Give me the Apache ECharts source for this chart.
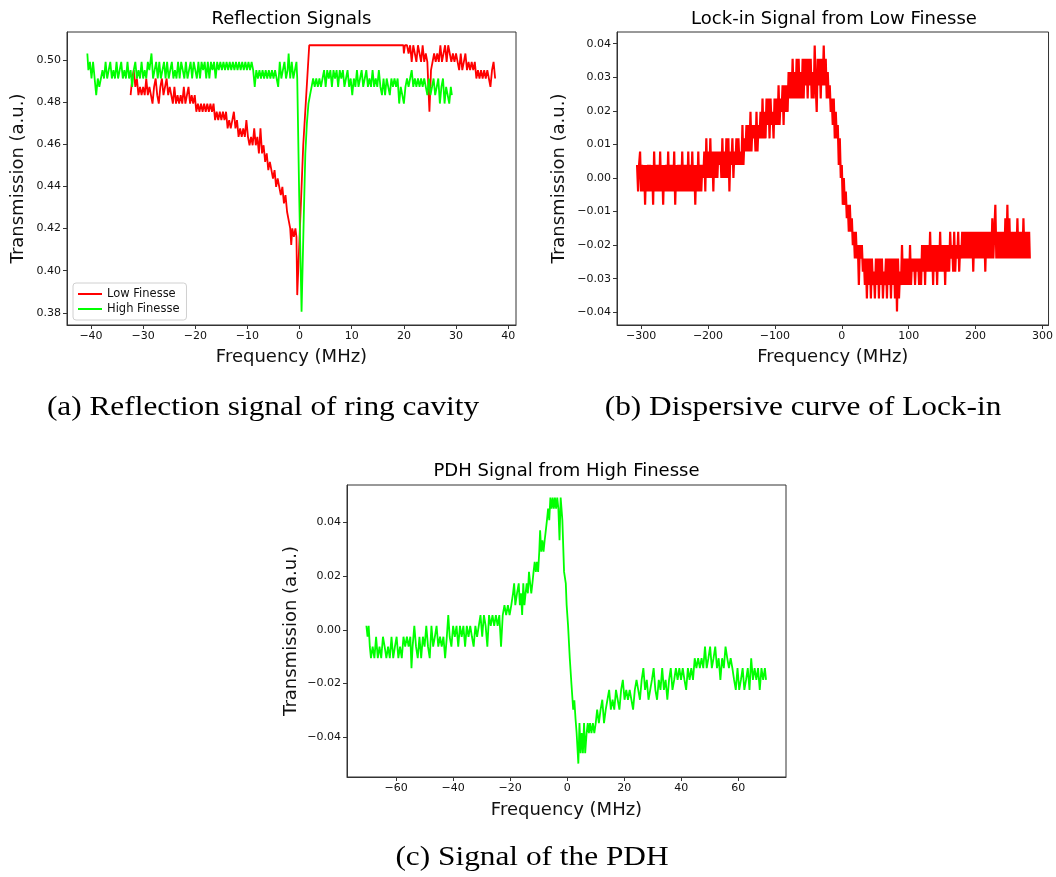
<!DOCTYPE html>
<html>
<head>
<meta charset="utf-8">
<script src="https://cdn.jsdelivr.net/npm/echarts@6/dist/echarts.min.js"></script>
<style>
html,body{margin:0;padding:0;background:#fff;}
#chart{width:1056px;height:877px;}
</style>
</head>
<body>
<div id="chart"></div>
<script>
// ---------- tick labels ----------
const xTicksA = [-40,-30,-20,-10,0,10,20,30,40];
const yTicksA = [0.38,0.40,0.42,0.44,0.46,0.48,0.50];
const xTicksB = [-300,-200,-100,0,100,200,300];
const yTicksB = [-0.04,-0.03,-0.02,-0.01,0.00,0.01,0.02,0.03,0.04];
const xTicksC = [-60,-40,-20,0,20,40,60];
const yTicksC = [-0.04,-0.02,0.00,0.02,0.04];

// ---------- text ----------
const titles = ['Reflection Signals','Lock-in Signal from Low Finesse','PDH Signal from High Finesse'];
const captions = ['(a) Reflection signal of ring cavity','(b) Dispersive curve of Lock-in','(c) Signal of the PDH'];
const seriesNames = ['Low Finesse','High Finesse'];

// ---------- (a) Reflection signals : [MHz, a.u.] ----------
const lowFinesse = [
[-32.4,0.4834],[-32.1,0.4913],[-31.8,0.4953],[-31.5,0.4873],[-31.2,0.4913],[-30.9,0.4834],[-30.6,0.4873],[-30.3,0.4834],[-30.0,0.4873],[-29.7,0.4834],
[-29.4,0.4913],[-29.1,0.4834],[-28.8,0.4873],[-28.5,0.4834],[-28.2,0.4794],[-27.9,0.4873],[-27.6,0.4913],[-27.3,0.4834],[-27.0,0.4794],[-26.7,0.4873],
[-26.4,0.4913],[-26.1,0.4834],[-25.8,0.4873],[-25.5,0.4913],[-25.2,0.4834],[-24.9,0.4873],[-24.6,0.4834],[-24.3,0.4794],[-24.0,0.4873],[-23.7,0.4794],
[-23.4,0.4834],[-23.1,0.4794],[-22.8,0.4834],[-22.5,0.4794],[-22.2,0.4873],[-21.9,0.4794],[-21.6,0.4834],[-21.3,0.4873],[-21.0,0.4794],[-20.7,0.4834],
[-20.4,0.4794],[-20.1,0.4834],[-19.8,0.4755],[-19.5,0.4794],[-19.2,0.4755],[-18.9,0.4794],[-18.6,0.4755],[-18.3,0.4794],[-18.0,0.4755],[-17.7,0.4794],
[-17.4,0.4755],[-17.1,0.4794],[-16.8,0.4755],[-16.5,0.4794],[-16.2,0.4715],[-15.9,0.4755],[-15.6,0.4715],[-15.3,0.4755],[-15.0,0.4715],[-14.7,0.4755],
[-14.4,0.4715],[-14.1,0.4755],[-13.8,0.4676],[-13.5,0.4715],[-13.2,0.4676],[-12.9,0.4715],[-12.6,0.4755],[-12.3,0.4676],[-12.0,0.4715],[-11.7,0.4636],
[-11.4,0.4676],[-11.1,0.4636],[-10.8,0.4676],[-10.5,0.4636],[-10.2,0.4715],[-9.9,0.4636],[-9.6,0.4596],[-9.3,0.4636],[-9.0,0.4596],[-8.7,0.4676],
[-8.4,0.4596],[-8.1,0.4636],[-7.8,0.4557],[-7.5,0.4676],[-7.2,0.4557],[-6.9,0.4596],[-6.6,0.4517],[-6.3,0.4557],[-6.0,0.4478],[-5.7,0.4517],
[-5.4,0.4478],[-5.1,0.4438],[-4.8,0.4478],[-4.5,0.4398],[-4.2,0.4438],[-3.9,0.4398],[-3.6,0.4359],[-3.3,0.4398],[-3.0,0.4320],[-2.7,0.4359],
[-2.4,0.4280],[-2.1,0.4240],[-1.8,0.4201],[-1.6,0.4122],[-1.4,0.4201],[-1.1,0.4161],[-0.8,0.4201],[-0.6,0.4161],[-0.45,0.3884],[0.7,0.4596],
[1.85,0.5071],[19.9,0.5071],[20.0,0.5032],[20.2,0.5071],[20.6,0.5071],[20.9,0.5032],[21.2,0.5071],[21.5,0.4992],[21.8,0.5071],[22.1,0.5032],
[22.4,0.4992],[22.7,0.5071],[23.0,0.5032],[23.3,0.4992],[23.6,0.5071],[23.9,0.4992],[24.2,0.5032],[24.5,0.4992],[24.9,0.4755],[25.2,0.4953],
[25.5,0.4992],[25.8,0.5032],[26.1,0.4992],[26.4,0.5032],[26.7,0.4992],[27.0,0.5071],[27.3,0.4992],[27.6,0.5032],[27.9,0.5071],[28.2,0.4992],
[28.5,0.5071],[28.8,0.5032],[29.1,0.4992],[29.4,0.5032],[29.7,0.4992],[30.0,0.5032],[30.3,0.4992],[30.6,0.4953],[30.9,0.5032],[31.2,0.4953],
[31.5,0.4992],[31.8,0.5032],[32.1,0.4953],[32.4,0.4992],[32.7,0.4953],[33.0,0.4992],[33.3,0.4953],[33.6,0.4992],[33.9,0.4913],[34.2,0.4953],
[34.5,0.4913],[34.8,0.4953],[35.1,0.4913],[35.4,0.4953],[35.7,0.4913],[36.0,0.4953],[36.3,0.4913],[36.6,0.4873],[36.9,0.4953],[37.2,0.4992],
[37.5,0.4913]
];
const highFinesse = [
[-40.7,0.5032],[-40.5,0.4953],[-40.2,0.4992],[-39.9,0.4913],[-39.6,0.4992],[-39.3,0.4913],[-39.0,0.4834],[-38.7,0.4913],[-38.4,0.4873],[-38.1,0.4913],
[-37.8,0.4953],[-37.5,0.4913],[-37.2,0.4992],[-36.9,0.4913],[-36.6,0.4953],[-36.3,0.4992],[-36.0,0.4913],[-35.7,0.4953],[-35.4,0.4913],[-35.1,0.4992],
[-34.8,0.4913],[-34.5,0.4953],[-34.2,0.4992],[-33.9,0.4913],[-33.6,0.4953],[-33.3,0.4913],[-33.0,0.4992],[-32.7,0.4913],[-32.4,0.4953],[-32.1,0.4873],
[-31.8,0.4953],[-31.5,0.4992],[-31.2,0.4913],[-30.9,0.4953],[-30.6,0.4913],[-30.3,0.4992],[-30.0,0.4913],[-29.7,0.4953],[-29.4,0.4913],[-29.1,0.4992],
[-28.8,0.4953],[-28.4,0.5032],[-28.1,0.4913],[-27.8,0.4953],[-27.5,0.4992],[-27.2,0.4913],[-26.9,0.4992],[-26.6,0.4913],[-26.3,0.4953],[-26.0,0.4992],
[-25.7,0.4913],[-25.4,0.4992],[-25.1,0.4913],[-24.8,0.4953],[-24.5,0.4992],[-24.2,0.4913],[-23.9,0.4953],[-23.6,0.4913],[-23.3,0.4992],[-23.0,0.4913],
[-22.7,0.4992],[-22.4,0.4953],[-22.1,0.4913],[-21.8,0.4992],[-21.5,0.4913],[-21.2,0.4953],[-20.9,0.4992],[-20.6,0.4913],[-20.3,0.4992],[-20.0,0.4953],
[-19.7,0.4913],[-19.4,0.4992],[-19.1,0.4913],[-18.8,0.4992],[-18.5,0.4953],[-18.2,0.4992],[-17.9,0.4913],[-17.6,0.4992],[-17.3,0.4913],[-17.0,0.4992],
[-16.7,0.4953],[-16.4,0.4992],[-16.1,0.4913],[-15.8,0.4992],[-15.5,0.4953],[-15.2,0.4992],[-14.9,0.4953],[-14.6,0.4992],[-14.3,0.4953],[-14.0,0.4992],
[-13.7,0.4953],[-13.4,0.4992],[-13.1,0.4953],[-12.8,0.4992],[-12.5,0.4953],[-12.2,0.4992],[-11.9,0.4953],[-11.6,0.4992],[-11.3,0.4953],[-11.0,0.4992],
[-10.7,0.4953],[-10.4,0.4992],[-10.1,0.4953],[-9.8,0.4992],[-9.5,0.4953],[-9.2,0.4992],[-8.9,0.4953],[-8.6,0.4873],[-8.3,0.4953],[-8.0,0.4913],
[-7.7,0.4953],[-7.4,0.4913],[-7.1,0.4953],[-6.8,0.4913],[-6.5,0.4953],[-6.2,0.4913],[-5.9,0.4953],[-5.6,0.4913],[-5.3,0.4953],[-5.0,0.4913],
[-4.7,0.4953],[-4.4,0.4913],[-4.1,0.4873],[-3.8,0.4992],[-3.5,0.4913],[-3.2,0.4953],[-2.9,0.4992],[-2.6,0.4913],[-2.3,0.4953],[-2.1,0.5032],
[-1.8,0.4913],[-1.5,0.4992],[-1.2,0.4913],[-0.9,0.4953],[-0.6,0.4992],[-0.45,0.4913],[-0.07,0.4351],[0.38,0.3805],[0.8,0.4250],[1.1,0.4555],
[1.4,0.4700],[1.7,0.4794],[2.0,0.4834],[2.3,0.4873],[2.6,0.4913],[2.9,0.4873],[3.2,0.4913],[3.5,0.4873],[3.8,0.4913],[4.1,0.4873],
[4.4,0.4913],[4.7,0.4953],[5.0,0.4873],[5.3,0.4953],[5.6,0.4913],[5.9,0.4953],[6.2,0.4873],[6.5,0.4953],[6.8,0.4913],[7.1,0.4953],
[7.4,0.4873],[7.7,0.4953],[8.0,0.4913],[8.3,0.4953],[8.6,0.4873],[8.9,0.4913],[9.2,0.4953],[9.5,0.4873],[9.8,0.4913],[10.1,0.4834],
[10.4,0.4913],[10.7,0.4873],[11.0,0.4953],[11.3,0.4873],[11.6,0.4913],[11.9,0.4953],[12.2,0.4873],[12.5,0.4913],[12.8,0.4953],[13.1,0.4873],
[13.4,0.4913],[13.7,0.4873],[14.0,0.4953],[14.3,0.4873],[14.6,0.4913],[14.9,0.4873],[15.2,0.4953],[15.5,0.4873],[15.8,0.4834],[16.1,0.4913],
[16.4,0.4834],[16.7,0.4913],[17.0,0.4873],[17.3,0.4834],[17.6,0.4913],[17.9,0.4873],[18.2,0.4913],[18.5,0.4873],[18.8,0.4913],[19.1,0.4794],
[19.4,0.4873],[19.7,0.4834],[20.0,0.4794],[20.3,0.4873],[20.6,0.4913],[20.9,0.4873],[21.2,0.4913],[21.5,0.4953],[21.8,0.4873],[22.1,0.4913],
[22.4,0.4873],[22.7,0.4913],[23.0,0.4873],[23.3,0.4913],[23.6,0.4873],[23.9,0.4913],[24.2,0.4873],[24.5,0.4834],[24.8,0.4913],[25.1,0.4834],
[25.4,0.4873],[25.7,0.4913],[26.0,0.4834],[26.3,0.4873],[26.6,0.4913],[26.9,0.4794],[27.2,0.4873],[27.5,0.4913],[27.8,0.4794],[28.1,0.4873],
[28.4,0.4834],[28.7,0.4794],[29.0,0.4873],[29.2,0.4834]
];

// ---------- (b) Lock-in signal : [MHz, a.u.] ----------
const lockIn = [
[-306,0.0039],[-304.5,-0.004],[-303,0.0039],[-301.5,0.0079],[-300,-0.004],[-298.5,0.0039],[-297,-0.004],[-295.5,0.0039],[-294,-0.008],[-292.5,0.0039],
[-291,-0.004],[-289.5,0.0039],[-288,-0.004],[-286.5,0.0039],[-285,-0.004],[-283.5,0.0039],[-282,-0.008],[-280.5,0.0079],[-279,-0.004],[-277.5,0.0039],
[-276,-0.004],[-274.5,0.0039],[-273,-0.004],[-271.5,0.0079],[-270,-0.004],[-268.5,0.0039],[-267,-0.008],[-265.5,0.0039],[-264,-0.004],[-262.5,0.0039],
[-261,-0.004],[-259.5,0.0079],[-258,-0.004],[-256.5,0.0039],[-255,-0.004],[-253.5,0.0039],[-252,-0.004],[-250.5,0.0079],[-249,-0.008],[-247.5,0.0039],
[-246,-0.004],[-244.5,0.0039],[-243,-0.004],[-241.5,0.0039],[-240,-0.004],[-238.5,0.0079],[-237,-0.004],[-235.5,0.0039],[-234,-0.004],[-232.5,0.0039],
[-231,-0.004],[-229.5,0.0079],[-228,-0.004],[-226.5,0.0039],[-225,-0.004],[-223.5,0.0079],[-222,-0.004],[-220.5,0.0039],[-219,-0.008],[-217.5,0.0039],
[-216,-0.004],[-214.5,0.0079],[-213,-0.004],[-211.5,0.0039],[-210,-0.004],[-208.5,0.0039],[-207,0],[-205.5,0.0079],[-204,-0.004],[-202.5,0.0118],
[-201,0],[-199.5,0.0079],[-198,0],[-196.5,0.0118],[-195,0],[-193.5,0.0079],[-192,-0.004],[-190.5,0.0079],[-189,0],[-187.5,0.0079],
[-186,0],[-184.5,0.0079],[-183,0.0039],[-181.5,0.0079],[-180,0],[-178.5,0.0118],[-177,0],[-175.5,0.0079],[-174,0],[-172.5,0.0118],
[-171,0],[-169.5,0.0118],[-168,-0.004],[-166.5,0.0079],[-165,0.0039],[-163.5,0.0118],[-162,0],[-160.5,0.0079],[-159,0.0039],[-157.5,0.0118],
[-156,0.0039],[-154.5,0.0118],[-153,0.0039],[-151.5,0.0079],[-150,0.0039],[-148.5,0.0158],[-147,0.0039],[-145.5,0.0118],[-144,0.0079],[-142.5,0.0158],
[-141,0.0079],[-139.5,0.0158],[-138,0.0079],[-136.5,0.0197],[-135,0.0079],[-133.5,0.0158],[-132,0.0118],[-130.5,0.0158],[-129,0.0079],[-127.5,0.0197],
[-126,0.0079],[-124.5,0.0158],[-123,0.0118],[-121.5,0.0197],[-120,0.0118],[-118.5,0.0237],[-117,0.0118],[-115.5,0.0197],[-114,0.0118],[-112.5,0.0237],
[-111,0.0158],[-109.5,0.0237],[-108,0.0118],[-106.5,0.0237],[-105,0.0158],[-103.5,0.0197],[-102,0.0118],[-100.5,0.0237],[-99,0.0158],[-97.5,0.0237],
[-96,0.0158],[-94.5,0.0276],[-93,0.0158],[-91.5,0.0237],[-90,0.0197],[-88.5,0.0276],[-87,0.0158],[-85.5,0.0276],[-84,0.0197],[-82.5,0.0276],
[-81,0.0197],[-79.5,0.0316],[-78,0.0237],[-76.5,0.0316],[-75,0.0237],[-73.5,0.0355],[-72,0.0237],[-70.5,0.0316],[-69,0.0237],[-67.5,0.0355],
[-66,0.0237],[-64.5,0.0355],[-63,0.0237],[-61.5,0.0316],[-60,0.0237],[-58.5,0.0355],[-57,0.0237],[-55.5,0.0355],[-54,0.0276],[-52.5,0.0355],
[-51,0.0237],[-49.5,0.0355],[-48,0.0276],[-46.5,0.0355],[-45,0.0237],[-43.5,0.0316],[-42,0.0237],[-40.5,0.0395],[-39,0.0276],[-37.5,0.0197],
[-36,0.0355],[-34.5,0.0276],[-33,0.0355],[-31.5,0.0237],[-30,0.0355],[-28.5,0.0276],[-27,0.0395],[-25.5,0.0276],[-24,0.0355],[-22.5,0.0237],
[-21,0.0316],[-19.5,0.0237],[-18,0.0276],[-16.5,0.0197],[-15,0.0237],[-13.5,0.0158],[-12,0.0237],[-10.5,0.0118],[-9,0.0197],[-7.5,0.0118],
[-6,0.0158],[-4.5,0.0039],[-3,0.0118],[-1.5,0],[0,0.0039],[1.5,-0.008],[3,0],[4.5,-0.008],[6,-0.004],[7.5,-0.012],
[9,-0.008],[10.5,-0.016],[12,-0.008],[13.5,-0.016],[15,-0.012],[16.5,-0.02],[18,-0.016],[19.5,-0.024],[21,-0.016],[22.5,-0.024],
[24,-0.02],[25.5,-0.0319],[27,-0.02],[28.5,-0.024],[30,-0.02],[31.5,-0.0279],[33,-0.024],[34.5,-0.0319],[36,-0.024],[37.5,-0.0359],
[39,-0.024],[40.5,-0.0319],[42,-0.024],[43.5,-0.0359],[45,-0.024],[46.5,-0.0319],[48,-0.0279],[49.5,-0.0359],[51,-0.024],[52.5,-0.0319],
[54,-0.024],[55.5,-0.0359],[57,-0.024],[58.5,-0.0319],[60,-0.024],[61.5,-0.0359],[63,-0.0279],[64.5,-0.0319],[66,-0.024],[67.5,-0.0359],
[69,-0.024],[70.5,-0.0319],[72,-0.024],[73.5,-0.0359],[75,-0.024],[76.5,-0.0319],[78,-0.024],[79.5,-0.0359],[81,-0.024],[82.5,-0.0398],
[84,-0.024],[85.5,-0.0359],[87,-0.0279],[88.5,-0.0319],[90,-0.02],[91.5,-0.0319],[93,-0.024],[94.5,-0.0319],[96,-0.024],[97.5,-0.0319],
[99,-0.024],[100.5,-0.0319],[102,-0.02],[103.5,-0.0319],[105,-0.024],[106.5,-0.0279],[108,-0.024],[109.5,-0.0319],[111,-0.024],[112.5,-0.0279],
[114,-0.024],[115.5,-0.0319],[117,-0.024],[118.5,-0.0319],[120,-0.02],[121.5,-0.0279],[123,-0.02],[124.5,-0.0319],[126,-0.02],[127.5,-0.0279],
[129,-0.02],[130.5,-0.0279],[132,-0.016],[133.5,-0.0279],[135,-0.02],[136.5,-0.0319],[138,-0.02],[139.5,-0.0279],[141,-0.02],[142.5,-0.0319],
[144,-0.02],[145.5,-0.0279],[147,-0.016],[148.5,-0.0279],[150,-0.02],[151.5,-0.0279],[153,-0.02],[154.5,-0.0319],[156,-0.02],[157.5,-0.0279],
[159,-0.02],[160.5,-0.0279],[162,-0.016],[163.5,-0.024],[165,-0.02],[166.5,-0.0279],[168,-0.016],[169.5,-0.0279],[171,-0.02],[172.5,-0.024],
[174,-0.016],[175.5,-0.0279],[177,-0.02],[178.5,-0.024],[180,-0.016],[181.5,-0.024],[183,-0.016],[184.5,-0.024],[186,-0.016],[187.5,-0.024],
[189,-0.016],[190.5,-0.024],[192,-0.016],[193.5,-0.024],[195,-0.016],[196.5,-0.0279],[198,-0.016],[199.5,-0.024],[201,-0.016],[202.5,-0.024],
[204,-0.016],[205.5,-0.024],[207,-0.016],[208.5,-0.024],[210,-0.016],[211.5,-0.024],[213,-0.016],[214.5,-0.0279],[216,-0.016],[217.5,-0.024],
[219,-0.016],[220.5,-0.024],[222,-0.016],[223.5,-0.024],[225,-0.012],[226.5,-0.024],[228,-0.016],[229.5,-0.008],[231,-0.024],[232.5,-0.016],
[234,-0.024],[235.5,-0.016],[237,-0.024],[238.5,-0.016],[240,-0.024],[241.5,-0.016],[243,-0.024],[244.5,-0.012],[246,-0.024],[247.5,-0.008],
[249,-0.024],[250.5,-0.012],[252,-0.024],[253.5,-0.016],[255,-0.024],[256.5,-0.016],[258,-0.024],[259.5,-0.016],[261,-0.024],[262.5,-0.012],
[264,-0.024],[265.5,-0.016],[267,-0.024],[268.5,-0.016],[270,-0.024],[271.5,-0.012],[273,-0.024],[274.5,-0.016],[276,-0.024],[277.5,-0.016],
[279,-0.024],[280,-0.016],[281,-0.024]
];

// ---------- (c) PDH signal : [MHz, a.u.] ----------
const pdh = [
[-70.4,0.0015],[-70.0,-0.0026],[-69.6,0.0015],[-69.2,-0.0063],[-68.8,-0.0106],[-68.2,-0.0063],[-67.6,-0.0106],[-67.0,-0.0026],[-66.4,-0.0106],[-65.8,-0.0063],
[-65.2,-0.0106],[-64.6,-0.0026],[-64.0,-0.0063],[-63.4,-0.0106],[-62.8,-0.0063],[-62.2,-0.0106],[-61.6,-0.0026],[-61.0,-0.0106],[-60.4,-0.0063],[-59.8,-0.0026],
[-59.2,-0.0106],[-58.6,-0.0063],[-58.0,-0.0106],[-57.4,-0.0026],[-56.8,-0.0063],[-56.2,-0.0026],[-55.6,-0.0063],[-55.0,-0.0026],[-54.6,-0.0143],[-54.2,-0.0063],
[-53.6,0.0015],[-53.0,-0.0063],[-52.4,-0.0106],[-51.8,-0.0026],[-51.2,-0.0106],[-50.6,-0.0026],[-50.0,-0.0063],[-49.4,0.0015],[-48.8,-0.0063],[-48.2,-0.0106],
[-47.6,0.0015],[-47.0,-0.0063],[-46.4,-0.0026],[-45.8,0.0015],[-45.2,-0.0063],[-44.6,-0.0026],[-44.0,-0.0063],[-43.4,-0.0026],[-42.8,-0.0106],[-42.2,-0.0026],
[-41.7,0.0055],[-41.2,-0.0026],[-40.6,-0.0063],[-40.0,0.0015],[-39.4,-0.0026],[-38.8,0.0015],[-38.2,-0.0063],[-37.6,0.0015],[-37.0,-0.0026],[-36.4,0.0015],
[-35.8,-0.0063],[-35.2,0.0015],[-34.6,-0.0026],[-34.0,0.0015],[-33.4,-0.0026],[-32.8,-0.0063],[-32.2,0.0015],[-31.6,-0.0026],[-31.0,0.0015],[-30.4,0.0055],
[-29.8,-0.0026],[-29.2,0.0055],[-28.6,0.0015],[-28.0,-0.0063],[-27.4,0.0055],[-26.8,0.0015],[-26.2,0.0055],[-25.6,0.0015],[-25.0,0.0055],[-24.4,0.0015],
[-23.8,0.0055],[-23.2,-0.0063],[-22.6,0.0055],[-22.0,0.0092],[-21.4,0.0055],[-20.8,0.0092],[-20.2,0.0055],[-19.6,0.0092],[-19.0,0.0136],[-18.6,0.0173],
[-18.2,0.0092],[-17.6,0.0136],[-17.0,0.0173],[-16.6,0.0092],[-16.2,0.0136],[-15.8,0.0055],[-15.4,0.0173],[-15.0,0.0092],[-14.6,0.0136],[-14.2,0.0173],
[-13.8,0.0136],[-13.4,0.0216],[-13.0,0.0173],[-12.6,0.0136],[-12.2,0.0173],[-11.8,0.0216],[-11.4,0.0253],[-11.0,0.0216],[-10.6,0.0253],[-10.2,0.0216],
[-9.8,0.0291],[-9.5,0.0371],[-9.1,0.0291],[-8.7,0.0334],[-8.3,0.0291],[-7.9,0.0334],[-7.5,0.0371],[-7.1,0.0409],[-6.7,0.0452],[-6.3,0.0409],
[-5.9,0.0493],[-5.5,0.0452],[-5.1,0.0493],[-4.7,0.0452],[-4.3,0.0493],[-3.9,0.0452],[-3.5,0.0493],[-3.1,0.0452],[-2.7,0.0334],[-2.3,0.0493],
[-2.0,0.0452],[-1.7,0.0409],[-1.1,0.0216],[-0.5,0.0173],[-0.2,0.0092],[0.3,0.0015],[0.9,-0.0106],[1.5,-0.0205],[2.1,-0.0298],[2.5,-0.0263],
[2.9,-0.0330],[3.3,-0.0385],[3.9,-0.0499],[4.3,-0.0348],[4.7,-0.0460],[5.1,-0.0385],[5.5,-0.0460],[5.9,-0.0348],[6.3,-0.0460],[6.8,-0.0385],
[7.2,-0.0348],[7.6,-0.0385],[8.0,-0.0348],[8.5,-0.0385],[9.0,-0.0348],[9.5,-0.0385],[10.0,-0.0348],[10.5,-0.0298],[11.1,-0.0348],[11.7,-0.0298],
[12.3,-0.0261],[12.9,-0.0348],[13.5,-0.0298],[14.1,-0.0261],[14.7,-0.0224],[15.3,-0.0298],[15.9,-0.0261],[16.5,-0.0298],[17.1,-0.0224],[17.7,-0.0261],
[18.3,-0.0298],[18.9,-0.0224],[19.5,-0.0187],[20.1,-0.0261],[20.7,-0.0224],[21.3,-0.0261],[21.9,-0.0224],[22.5,-0.0261],[23.1,-0.0298],[23.7,-0.0224],
[24.3,-0.0187],[24.9,-0.0224],[25.5,-0.0261],[26.1,-0.0187],[26.7,-0.0143],[27.3,-0.0224],[27.9,-0.0187],[28.5,-0.0261],[29.1,-0.0224],[29.7,-0.0187],
[30.3,-0.0143],[30.9,-0.0224],[31.5,-0.0261],[32.1,-0.0187],[32.7,-0.0224],[33.3,-0.0143],[33.9,-0.0224],[34.5,-0.0187],[35.1,-0.0261],[35.7,-0.0187],
[36.3,-0.0143],[36.9,-0.0224],[37.5,-0.0187],[38.1,-0.0143],[38.7,-0.0187],[39.3,-0.0143],[39.9,-0.0187],[40.5,-0.0143],[41.1,-0.0187],[41.7,-0.0224],
[42.3,-0.0143],[42.9,-0.0187],[43.5,-0.0143],[44.1,-0.0187],[44.7,-0.0106],[45.3,-0.0143],[45.9,-0.0106],[46.5,-0.0143],[47.1,-0.0106],[47.7,-0.0143],
[48.3,-0.0063],[48.9,-0.0143],[49.5,-0.0106],[50.1,-0.0063],[50.7,-0.0143],[51.3,-0.0106],[51.9,-0.0063],[52.5,-0.0143],[53.1,-0.0106],[53.7,-0.0187],
[54.3,-0.0106],[54.9,-0.0143],[55.5,-0.0063],[56.1,-0.0106],[56.7,-0.0143],[57.3,-0.0106],[57.9,-0.0143],[58.5,-0.0187],[59.1,-0.0224],[59.7,-0.0143],
[60.3,-0.0224],[60.9,-0.0187],[61.5,-0.0143],[62.1,-0.0224],[62.7,-0.0187],[63.3,-0.0143],[63.9,-0.0224],[64.5,-0.0106],[65.1,-0.0187],[65.7,-0.0143],
[66.3,-0.0187],[66.9,-0.0143],[67.5,-0.0224],[68.1,-0.0143],[68.7,-0.0187],[69.3,-0.0143],[69.7,-0.0187]
];

// ---------- build chart ----------
const SANS = 'DejaVu Sans';
const TXT = '#111';
const minusFmt = (d) => (v) => (v < 0 ? '\u2212' : '') + Math.abs(v).toFixed(d);

function xAxisDef(gi, min, max, ticks, gap) {
  return {
    type: 'value', gridIndex: gi, min: min, max: max,
    name: 'Frequency (MHz)', nameLocation: 'middle', nameGap: gap,
    nameTextStyle: { fontFamily: SANS, fontSize: 18, color: TXT },
    axisLine: { show: true, onZero: false, lineStyle: { color: '#333', width: 1 } },
    axisTick: { show: true, length: 4, customValues: ticks, lineStyle: { color: '#333' } },
    axisLabel: { customValues: ticks, fontFamily: SANS, fontSize: 11, color: TXT, margin: 6, formatter: minusFmt(0) },
    splitLine: { show: false }
  };
}
function yAxisDef(gi, min, max, ticks, dec, gap) {
  return {
    type: 'value', gridIndex: gi, min: min, max: max,
    name: 'Transmission (a.u.)', nameLocation: 'middle', nameGap: gap, nameRotate: 90,
    nameTextStyle: { fontFamily: SANS, fontSize: 18, color: TXT },
    axisLine: { show: true, onZero: false, lineStyle: { color: '#333', width: 1 } },
    axisTick: { show: true, length: 4, customValues: ticks, lineStyle: { color: '#333' } },
    axisLabel: { customValues: ticks, fontFamily: SANS, fontSize: 11, color: TXT, margin: 6, formatter: minusFmt(dec) },
    splitLine: { show: false }
  };
}
function lineSeries(name, data, color, xi, w) {
  return {
    type: 'line', name: name, data: data, xAxisIndex: xi, yAxisIndex: xi,
    symbol: 'none', showSymbol: false, sampling: null,
    lineStyle: { color: color, width: w }, itemStyle: { color: color },
    animation: false, emphasis: { disabled: true }, silent: true
  };
}
function label(text, x, y, size, family, sx) {
  return { type: 'text', x: x, y: y, scaleX: sx || 1, silent: true,
    style: { text: text, fill: '#000', fontSize: size, fontFamily: family, align: 'center', verticalAlign: 'middle' } };
}

const chart = echarts.init(document.getElementById('chart'), null, { renderer: 'canvas' });
chart.setOption({
  animation: false,
  backgroundColor: '#fff',
  grid: [
    { left: 67, top: 32, width: 449, height: 293, show: true, borderColor: '#333', borderWidth: 1, backgroundColor: 'transparent' },
    { left: 617, top: 32, width: 434, height: 293, show: true, borderColor: '#333', borderWidth: 1, backgroundColor: 'transparent' },
    { left: 347, top: 485, width: 439, height: 292, show: true, borderColor: '#333', borderWidth: 1, backgroundColor: 'transparent' }
  ],
  xAxis: [
    xAxisDef(0, -44.6, 41.5, xTicksA, 23),
    xAxisDef(1, -336, 309, xTicksB, 23),
    xAxisDef(2, -77.2, 76.7, xTicksC, 24)
  ],
  yAxis: [
    yAxisDef(0, 0.3742, 0.5134, yTicksA, 2, 40),
    yAxisDef(1, -0.0438, 0.0435, yTicksB, 2, 49),
    yAxisDef(2, -0.0549, 0.0540, yTicksC, 2, 47)
  ],
  legend: {
    data: seriesNames, orient: 'vertical', left: 73, top: 283,
    padding: [5, 7, 5, 5], itemGap: 3, itemWidth: 24, itemHeight: 2, icon: 'rect',
    borderColor: '#d0d0d0', borderWidth: 1, borderRadius: 3, backgroundColor: 'rgba(255,255,255,0.8)',
    textStyle: { fontFamily: SANS, fontSize: 11.5, color: TXT }, selectedMode: false
  },
  series: [
    lineSeries(seriesNames[0], lowFinesse, '#ff0000', 0, 1.8),
    lineSeries(seriesNames[1], highFinesse, '#00ff00', 0, 1.8),
    lineSeries('Lock-in', lockIn, '#ff0000', 1, 2.2),
    lineSeries('PDH', pdh, '#00ff00', 2, 1.8)
  ],
  graphic: [
    label(titles[0], 291.5, 19, 18, SANS),
    label(titles[1], 834, 19, 18, SANS),
    label(titles[2], 566.5, 471, 18, SANS),
    label(captions[0], 263, 408, 27, 'Liberation Serif', 1.16),
    label(captions[1], 803, 408, 27, 'Liberation Serif', 1.16),
    label(captions[2], 532, 858, 27, 'Liberation Serif', 1.16)
  ]
});
</script>
</body>
</html>
